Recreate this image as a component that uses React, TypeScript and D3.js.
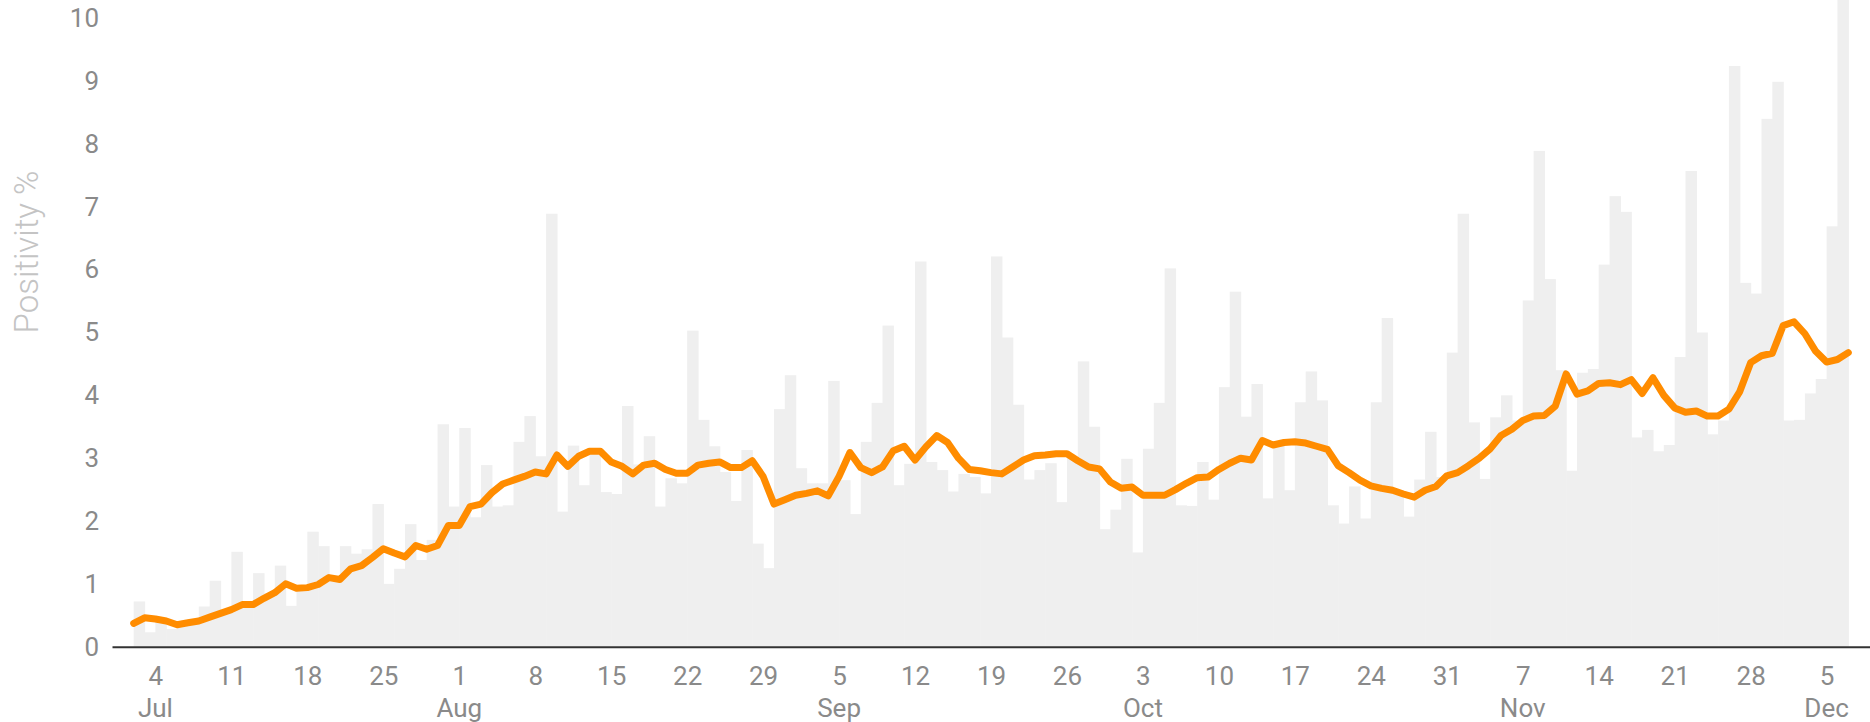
import React, { useRef, useEffect } from "react";
import * as d3 from "d3";

// Daily test positivity (%) from 2 Jul 2020, one value per day
const barStart = new Date(2020, 6, 2);
const dailyPositivity = [
  // Jul
  0.72, 0.23, 0.42, 0.28, 0.35, 0.4, 0.64, 1.05, 0.55, 1.51, 0.7, 1.17, 0.85, 1.29, 0.65,
  0.95, 1.83, 1.6, 1.1, 1.6, 1.48, 1.55, 2.27, 1.0, 1.24, 1.95, 1.38, 1.7, 3.54, 2.23,
  // Aug
  3.48, 2.06, 2.89, 2.23, 2.25, 3.26, 3.67, 3.03, 6.89, 2.15, 3.2, 2.57, 3.1, 2.46, 2.43,
  3.83, 2.9, 3.35, 2.23, 2.68, 2.6, 5.03, 3.61, 3.19, 2.78, 2.32, 3.13, 1.64, 1.25, 3.78, 4.32,
  // Sep
  2.84, 2.6, 2.6, 4.23, 2.65, 2.11, 3.26, 3.88, 5.11, 2.57, 2.91, 6.13, 2.94, 2.81, 2.47,
  2.75, 2.7, 2.44, 6.21, 4.92, 3.85, 2.66, 2.81, 2.92, 2.3, 3.0, 4.54, 3.5, 1.87, 2.18,
  // Oct
  2.99, 1.5, 3.15, 3.88, 6.02, 2.25, 2.24, 2.94, 2.34, 4.13, 5.65, 3.66, 4.18, 2.36, 3.2,
  2.49, 3.89, 4.38, 3.92, 2.25, 1.96, 2.55, 2.04, 3.89, 5.23, 2.44, 2.07, 2.66, 3.42, 2.7, 4.68,
  // Nov
  6.89, 3.57, 2.67, 3.65, 4.0, 3.6, 5.51, 7.89, 5.85, 4.4, 2.8, 4.36, 4.42, 6.08, 7.17,
  6.92, 3.33, 3.45, 3.11, 3.21, 4.61, 7.57, 5.0, 3.38, 3.6, 9.24, 5.79, 5.62, 8.4, 8.99,
  // Dec
  3.6, 3.61, 4.03, 4.26, 6.69, 11.0,
];

// Rolling average (%), one point per day from 2 Jul 2020
const lineStart = new Date(2020, 6, 2);
const rollingAverage = [
  // Jul
  0.37, 0.46, 0.44, 0.41, 0.35, 0.38, 0.41, 0.47, 0.53, 0.59, 0.67, 0.67, 0.77, 0.86, 1.0,
  0.93, 0.94, 0.99, 1.1, 1.07, 1.24, 1.29, 1.42, 1.56, 1.49, 1.43, 1.61, 1.55, 1.61, 1.93,
  // Aug
  1.93, 2.23, 2.27, 2.45, 2.59, 2.65, 2.71, 2.78, 2.75, 3.05, 2.87, 3.03, 3.11, 3.11, 2.94,
  2.87, 2.75, 2.89, 2.92, 2.82, 2.76, 2.76, 2.89, 2.92, 2.94, 2.85, 2.85, 2.96, 2.71, 2.27, 2.34,
  // Sep
  2.41, 2.44, 2.48, 2.4, 2.71, 3.09, 2.85, 2.77, 2.86, 3.12, 3.19, 2.97, 3.18, 3.36, 3.25,
  3.0, 2.82, 2.8, 2.77, 2.75, 2.86, 2.97, 3.04, 3.05, 3.07, 3.07, 2.96, 2.86, 2.83, 2.62,
  // Oct
  2.52, 2.54, 2.41, 2.41, 2.41, 2.5, 2.6, 2.69, 2.7, 2.82, 2.92, 3.0, 2.97, 3.28, 3.21,
  3.25, 3.26, 3.24, 3.19, 3.14, 2.88, 2.77, 2.65, 2.56, 2.52, 2.49, 2.43, 2.38, 2.49, 2.55, 2.72,
  // Nov
  2.77, 2.88, 3.0, 3.15, 3.36, 3.46, 3.6, 3.67, 3.68, 3.83, 4.34, 4.02, 4.07, 4.19, 4.2,
  4.17, 4.25, 4.03, 4.28, 4.0, 3.8, 3.73, 3.75, 3.67, 3.67, 3.78, 4.06, 4.52, 4.63, 4.67,
  // Dec
  5.11, 5.17, 4.98, 4.7, 4.53, 4.57, 4.68,
];

const yTicks = [0, 1, 2, 3, 4, 5, 6, 7, 8, 9, 10];
const xDomain = [new Date(2020, 5, 30), new Date(2020, 11, 9)];
const axisTitle = "Positivity %";

const WIDTH = 1870;
const HEIGHT = 722;
const LABEL_COLOR = "#8a8a8a";
const LABEL_SIZE = 26;

const PositivityChart = () => {
  const container = useRef<SVGSVGElement>(null);

  useEffect(() => {
    const node = container.current;
    if (!node) return;
    const svg = d3.select(node);
    svg.selectChildren().remove();

    const x = d3.scaleTime().domain(xDomain).range([112, 1870]);
    const y = d3.scaleLinear().domain([0, 10]).range([646.7, 18.3]);

    const day = (start: Date, i: number) => d3.timeDay.offset(start, i);

    // Daily bars (touching, slight overlap to hide seams)
    svg
      .append("g")
      .selectAll("rect")
      .data(dailyPositivity)
      .join("rect")
      .attr("x", (_, i) => x(day(barStart, i)))
      .attr("y", (d) => y(d))
      .attr("width", (_, i) => x(day(barStart, i + 1)) - x(day(barStart, i)) + 0.6)
      .attr("height", (d) => y(0) - y(d))
      .attr("fill", "#efefef");

    // Y axis labels only
    const yAxis = svg
      .append("g")
      .attr("transform", `translate(112, 0)`)
      .call(d3.axisLeft(y).tickValues(yTicks).tickSize(0).tickPadding(13).tickFormat(d3.format("d")));
    yAxis.select(".domain").remove();
    yAxis
      .selectAll("text")
      .attr("font-family", "Roboto, sans-serif")
      .attr("font-size", LABEL_SIZE)
      .attr("fill", LABEL_COLOR);

    // Title of y axis
    svg
      .append("text")
      .attr("transform", "translate(38, 252) rotate(-90)")
      .attr("text-anchor", "middle")
      .attr("font-family", "Roboto, sans-serif")
      .attr("font-weight", 300)
      .attr("font-size", 33)
      .attr("fill", "#c4c4c4")
      .text(axisTitle);

    // X axis: weekly ticks on Saturdays, month under first tick of each month
    const ticks = d3.timeSaturday.range(d3.timeDay.offset(xDomain[0], 1), xDomain[1]);
    const xAxis = svg
      .append("g")
      .attr("transform", `translate(0, ${y(0)})`)
      .call(
        d3
          .axisBottom(x)
          .tickValues(ticks)
          .tickSize(0)
          .tickSizeOuter(0)
          .tickPadding(20)
          .tickFormat(d3.timeFormat("%-d") as any)
      );
    xAxis.select(".domain").attr("stroke", "#333").attr("stroke-width", 2);
    xAxis
      .selectAll("text")
      .attr("font-family", "Roboto, sans-serif")
      .attr("font-size", LABEL_SIZE)
      .attr("fill", LABEL_COLOR);

    const firstOfMonth = ticks.filter((t, i) => i === 0 || t.getMonth() !== ticks[i - 1].getMonth());
    xAxis
      .append("g")
      .selectAll("text")
      .data(firstOfMonth)
      .join("text")
      .attr("x", (d) => x(d))
      .attr("y", 52)
      .attr("dy", "0.71em")
      .attr("text-anchor", "middle")
      .attr("font-family", "Roboto, sans-serif")
      .attr("font-size", LABEL_SIZE)
      .attr("fill", LABEL_COLOR)
      .text(d3.timeFormat("%b"));

    // Rolling average line
    const line = d3
      .line<number>()
      .x((_, i) => x(day(lineStart, i)))
      .y((d) => y(d));
    svg
      .append("path")
      .datum(rollingAverage)
      .attr("d", line)
      .attr("fill", "none")
      .attr("stroke", "#ff8c00")
      .attr("stroke-width", 7)
      .attr("stroke-linejoin", "round")
      .attr("stroke-linecap", "round");
  }, []);

  return (
    <svg
      ref={container}
      width={WIDTH}
      height={HEIGHT}
      style={{ position: "absolute", left: 0, top: 0, background: "#fff" }}
    />
  );
};

export default function App() {
  return <PositivityChart />;
}
